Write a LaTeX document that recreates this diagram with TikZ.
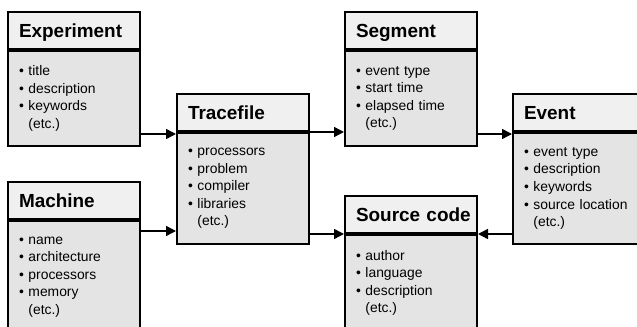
\documentclass[tikz,border=0pt]{standalone}
\usepackage{fontspec}
\setmainfont{Liberation Sans}
\usetikzlibrary{arrows.meta}

\tikzset{every picture/.style={line width=0.75pt}}
\tikzset{
	boxhead/.style={draw, line width=1.5pt, fill={rgb, 255:red, 240; green, 240; blue, 240}, anchor=north west,
		minimum height=27.75pt, inner xsep=8.25pt, text width=82.5pt, align=left,
		text height=12.6pt, text depth=1.6pt, font=\fontsize{14.2}{16}\selectfont\bfseries},
	boxbody/.style={draw, line width=1.5pt, fill={rgb, 255:red, 228; green, 228; blue, 228}, anchor=north,
		inner xsep=8.25pt, text width=82.5pt, align=left, font=\fontsize{10.4}{13.2}\selectfont},
	flow/.style={line width=1.1pt, -{Triangle[length=7.5pt,width=7.5pt]}}
}
\newcommand{\etcline}{\hphantom{\textbullet}~(etc.)}

\begin{document}
\begin{tikzpicture}[x=0.75pt,y=0.75pt,yscale=-1,xscale=1]
	\clip (0,0) rectangle (637,327);
	\fill[white] (0,0) rectangle (637,327);

	% Experiment
	\node[boxhead] (exph) at (7,11) {Experiment};
	\node[boxbody, minimum height=71.25pt] (expb) at (exph.south) {\textbullet~title\\ \textbullet~description\\ \textbullet~keywords\\ \etcline};
	% Machine
	\node[boxhead] (mach) at (7,181) {Machine};
	\node[boxbody, minimum height=84pt] (macb) at (mach.south) {\textbullet~name\\ \textbullet~architecture\\ \textbullet~processors\\ \textbullet~memory\\ \etcline};
	% Tracefile
	\node[boxhead] (trch) at (176,93) {Tracefile};
	\node[boxbody, minimum height=83.25pt] (trcb) at (trch.south) {\textbullet~processors\\ \textbullet~problem\\ \textbullet~compiler\\ \textbullet~libraries\\ \etcline};
	% Segment
	\node[boxhead] (segh) at (344,11) {Segment};
	\node[boxbody, minimum height=71.25pt] (segb) at (segh.south) {\textbullet~event type\\ \textbullet~start time\\ \textbullet~elapsed time\\ \etcline};
	% Source code
	\node[boxhead] (srch) at (344,195) {\mbox{Source code}};
	\node[boxbody, minimum height=72pt] (srcb) at (srch.south) {\textbullet~author\\ \textbullet~language\\ \textbullet~description\\ \etcline};
	% Event
	\node[boxhead] (evth) at (512,93) {Event};
	\node[boxbody, minimum height=83.25pt] (evtb) at (evth.south) {\textbullet~event type\\ \textbullet~description\\ \textbullet~keywords\\ \textbullet~source location\\ \etcline};

	% connectors
	\draw[flow] (expb.east |- 0,134) -- (trcb.west |- 0,134);
	\draw[flow] (macb.east |- 0,231) -- (trcb.west |- 0,231);
	\draw[flow] (trcb.east |- 0,132) -- (segb.west |- 0,132);
	\draw[flow] (segb.east |- 0,134) -- (evtb.west |- 0,134);
	\draw[flow] (trcb.east |- srcb.north west) -- (srcb.north west);
	\draw[flow] (evtb.west |- srcb.north east) -- (srcb.north east);
\end{tikzpicture}
\end{document}
